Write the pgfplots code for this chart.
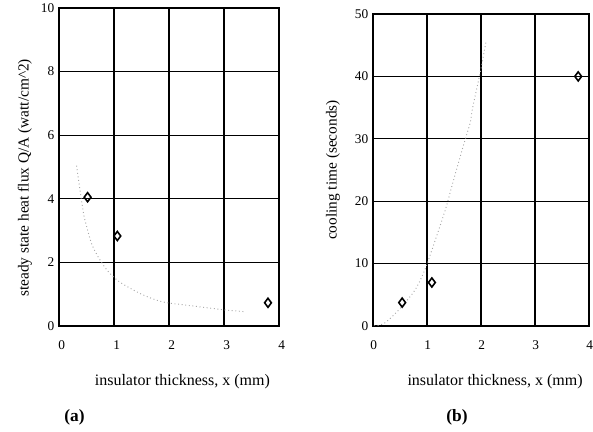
\documentclass[border=0pt]{standalone}
\usepackage{pgfplots}
\pgfplotsset{compat=1.18}
\usepackage{fontspec}
\setmainfont{Liberation Serif}
\begin{document}
\begin{tikzpicture}
\useasboundingbox (0pt,0pt) rectangle (444.75pt,324pt);
\pgfplotsset{panel/.style={
  scale only axis, anchor=south west,
  xmin=0, xmax=4, ymin=0,
  xtick={0,1,2,3,4},
  grid=major, major grid style={black, line width=0.8pt},
  axis line style={black, line width=1pt},
  tick style={draw=none},
  /pgf/number format/assume math mode=true,
  ticklabel style={font=\fontsize{10}{12}\selectfont},
  xlabel style={font=\fontsize{12}{14}\selectfont},
  ylabel style={font=\fontsize{11.5}{13}\selectfont},
}}
\begin{axis}[panel, at={(44.25pt,79.5pt)}, width=165pt, height=238.5pt,
  ymax=10, ytick={0,2,4,6,8,10},
  xticklabel style={yshift=-7.5pt, xshift=2pt},
  xlabel={insulator thickness, x (mm)},
  ylabel={steady state heat flux Q/A (watt/cm\^{}2)},
  xlabel style={at={(axis description cs:0.561,-0.174)}, anchor=center},
  ylabel style={at={(axis description cs:-0.155,0.466)}, anchor=center},
]
\addplot[gray!70, dotted, line width=0.7pt, smooth] coordinates {
 (0.32,5.04) (0.44,3.6) (0.50,3.15) (0.59,2.6) (0.71,2.18) (0.88,1.74)
 (1.10,1.39) (1.5,1.0) (1.88,0.76) (2.3,0.66) (2.71,0.57) (3.05,0.50) (3.38,0.45)};
\addplot[only marks, mark=diamond, mark size=3.4pt, black, mark options={line width=1.2pt}] coordinates {
 (0.52,4.05) (1.06,2.83) (3.80,0.73)};
\end{axis}
\begin{axis}[panel, at={(279.75pt,79.5pt)}, width=162pt, height=234pt,
  ymax=50, ytick={0,10,20,30,40,50},
  xticklabel style={yshift=-7.5pt, xshift=0.5pt},
  xlabel={insulator thickness, x (mm)},
  ylabel={cooling time (seconds)},
  xlabel style={at={(axis description cs:0.565,-0.177)}, anchor=center},
  ylabel style={at={(axis description cs:-0.185,0.5)}, anchor=center},
]
\addplot[gray!70, dotted, line width=0.7pt, smooth] coordinates {
 (0.02,0.0) (0.22,0.5) (0.5,2.8) (0.78,5.8) (0.96,9.0) (1.06,11.4) (1.24,16)
 (1.36,19.2) (1.46,22.4) (1.67,28.8) (1.80,32.6) (1.85,35.2) (1.98,40.4) (2.09,45.4)};
\addplot[only marks, mark=diamond, mark size=3.4pt, black, mark options={line width=1.2pt}] coordinates {
 (0.54,3.75) (1.09,6.97) (3.80,40.0)};
\end{axis}
\node[font=\fontsize{13}{15}\selectfont\bfseries] at (55.9pt,11.25pt) {(a)};
\node[font=\fontsize{13}{15}\selectfont\bfseries] at (342.75pt,11.25pt) {(b)};
\end{tikzpicture}
\end{document}
